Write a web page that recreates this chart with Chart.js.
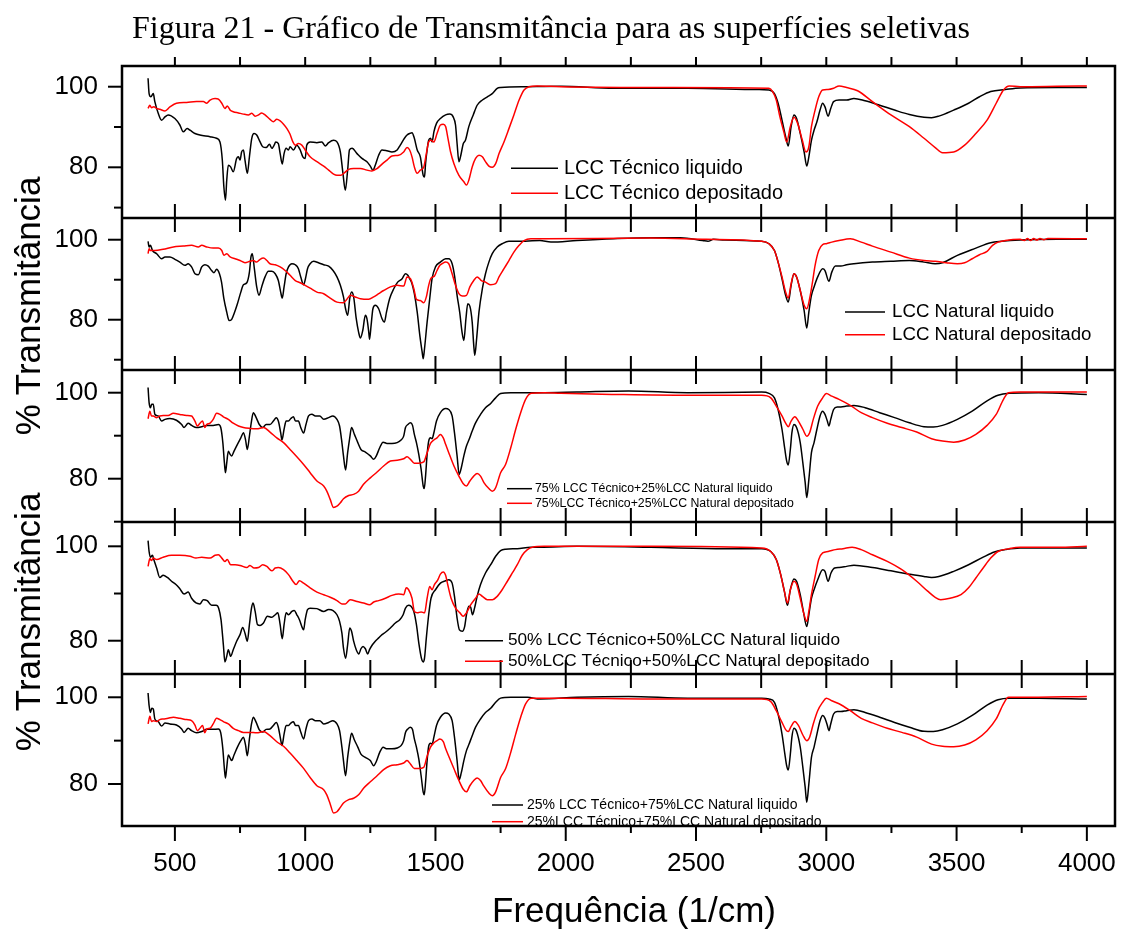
<!DOCTYPE html>
<html lang="pt-BR">
<head>
<meta charset="UTF-8">
<title>Figura 21 - Transmitância</title>
<script src="https://cdn.jsdelivr.net/npm/chart.js"></script>
<style>
  body, html { margin: 0; padding: 0; background: #fff; }
  .wrap { position: relative; width: 1126px; height: 931px; }
  canvas { position: absolute; left: 0; top: 0; }
  .titulo {
    position: absolute; left: 132px; top: 9px;
    font-family: 'Liberation Serif', 'Times New Roman', serif;
    font-size: 32px; color: #000; white-space: nowrap; line-height: 36px;
  }
  .ytitle {
    position: absolute;
    font-family: 'Liberation Sans', Arial, sans-serif;
    font-size: 35px; color: #000; white-space: nowrap; line-height: 40px;
    transform: translate(-50%, -50%) rotate(-90deg);
  }
  .xtitle {
    position: absolute;
    font-family: 'Liberation Sans', Arial, sans-serif;
    font-size: 35px; color: #000; white-space: nowrap; line-height: 40px;
    transform: translate(-50%, -50%);
  }
</style>
</head>
<body>
<div class="wrap">
  <canvas id="grafico" width="1126" height="931"></canvas>
  <div class="titulo">Figura 21 - Gráfico de Transmitância para as superfícies seletivas</div>
  <div class="ytitle" style="left:28px; top:306px;">% Transmitância</div>
  <div class="ytitle" style="left:28px; top:622px;">% Transmitância</div>
  <div class="xtitle" style="left:634px; top:910px;">Frequência (1/cm)</div>
</div>

<script>
// dados: [número de onda (1/cm), % transmitância]
const tecnicoLiquido = [[397,102.1],[401,98.3],[408,97.5],[417,98.3],[423,96.3],[436,93.4],[449,91.7],[462,92.5],[474,93.0],[500,92.1],[519,90.5],[532,88.8],[547,89.6],[558,89.2],[577,88.4],[596,88.0],[635,87.6],[660,87.2],[673,86.3],[682,81.8],[688,75.1],[694,71.8],[699,76.8],[705,80.5],[714,80.1],[724,78.9],[737,82.2],[744,82.6],[750,81.8],[756,83.8],[763,84.3],[769,81.8],[778,78.5],[786,82.6],[795,87.2],[804,88.4],[814,88.0],[827,86.3],[837,85.1],[850,84.9],[863,85.7],[872,84.7],[881,85.5],[887,86.3],[897,85.9],[904,83.4],[912,80.8],[919,83.4],[927,84.7],[936,84.3],[942,85.1],[955,84.3],[968,85.5],[981,84.3],[991,82.6],[1000,82.2],[1006,85.5],[1019,86.3],[1045,86.1],[1064,86.3],[1077,85.3],[1090,86.1],[1109,86.7],[1122,86.3],[1135,83.8],[1145,78.5],[1154,74.3],[1163,79.3],[1170,84.3],[1180,84.7],[1199,83.4],[1218,82.2],[1237,81.4],[1250,80.3],[1260,79.3],[1269,80.5],[1282,83.0],[1295,84.3],[1314,84.1],[1333,83.8],[1353,84.3],[1365,85.5],[1381,87.2],[1391,88.0],[1401,88.4],[1410,88.6],[1419,87.2],[1430,84.3],[1442,82.6],[1453,78.0],[1458,77.6],[1462,80.9],[1468,84.3],[1474,86.7],[1481,87.2],[1487,86.3],[1494,88.8],[1504,90.9],[1519,92.1],[1539,93.0],[1555,93.2],[1568,92.5],[1577,90.5],[1583,85.9],[1590,81.4],[1596,82.6],[1607,85.9],[1615,86.7],[1628,90.1],[1645,93.0],[1660,95.4],[1680,96.7],[1699,97.5],[1718,98.3],[1737,99.6],[1750,99.8],[1853,100],[1981,100.1],[2184,99.6],[2468,99.6],[2737,99.3],[2780,99.2],[2801,98.3],[2815,95.9],[2830,91.7],[2844,87.6],[2854,85.3],[2865,90.1],[2876,93.0],[2886,92.1],[2900,88.4],[2915,83.8],[2925,80.3],[2933,82.6],[2943,86.7],[2953,89.2],[2964,91.3],[2976,94.2],[2986,95.9],[2995,95.0],[3007,92.7],[3017,94.6],[3028,96.3],[3049,96.7],[3078,96.7],[3106,97.1],[3149,96.5],[3205,95.4],[3262,94.2],[3319,93.1],[3375,92.4],[3404,92.3],[3432,92.7],[3489,94.2],[3546,95.9],[3588,97.5],[3631,98.8],[3687,99.3],[3744,99.7],[3886,99.8],[4000,99.8]];

const tecnicoDepositado = [[397,94.6],[404,95.4],[410,94.8],[419,95.0],[430,94.6],[442,94.4],[462,94.0],[481,95.0],[506,95.9],[545,96.1],[583,96.3],[609,96.3],[622,95.9],[635,96.7],[654,97.1],[667,96.9],[680,95.9],[692,94.6],[701,95.2],[712,94.2],[724,93.8],[744,93.5],[763,93.2],[782,93.0],[795,93.4],[808,92.7],[821,93.0],[833,93.5],[846,93.0],[865,91.9],[878,91.3],[891,91.9],[904,91.5],[917,90.7],[930,89.6],[942,88.2],[953,86.3],[962,85.5],[974,85.9],[987,85.5],[1000,84.3],[1019,82.6],[1045,81.4],[1071,80.3],[1090,79.3],[1109,78.3],[1122,78.0],[1135,78.0],[1148,78.5],[1167,79.5],[1186,79.7],[1212,79.7],[1237,79.3],[1256,79.1],[1276,79.7],[1295,80.8],[1314,81.8],[1333,82.8],[1359,83.0],[1378,83.8],[1391,84.9],[1401,84.3],[1410,82.6],[1419,80.1],[1430,78.5],[1442,79.3],[1455,80.0],[1465,83.4],[1474,86.3],[1483,86.7],[1494,86.3],[1506,88.4],[1519,90.5],[1530,90.7],[1539,90.1],[1548,87.2],[1558,83.8],[1571,80.9],[1590,78.0],[1609,76.4],[1619,75.6],[1628,76.8],[1641,80.1],[1654,82.2],[1667,83.0],[1680,82.6],[1692,81.4],[1705,80.3],[1718,80.0],[1731,80.9],[1744,83.4],[1763,86.3],[1782,89.6],[1801,93.0],[1821,96.7],[1840,99.2],[1859,100],[1891,100.2],[1981,100],[2400,99.8],[2780,99.6],[2794,98.8],[2808,96.7],[2822,92.5],[2837,88.8],[2848,86.3],[2862,90.1],[2876,92.4],[2890,90.9],[2908,86.7],[2922,83.8],[2933,85.1],[2943,90.1],[2957,94.2],[2971,97.5],[2986,99.2],[3007,99.3],[3028,99.6],[3049,100.2],[3078,99.8],[3120,99.0],[3177,96.3],[3248,93.0],[3319,90.1],[3375,87.2],[3418,84.9],[3446,83.6],[3489,83.8],[3531,85.5],[3574,88.4],[3617,91.7],[3652,95.9],[3680,99.2],[3702,100.2],[3744,100],[3886,100.1],[4000,100.2]];

const naturalLiquido = [[397,99.6],[401,98.2],[406,98.6],[414,97.3],[430,96.5],[449,95.25],[462,95.7],[481,95.7],[500,95.1],[519,94.4],[538,93.6],[551,94.0],[564,93.2],[577,91.5],[590,91.25],[603,93.2],[615,93.75],[628,93.4],[641,92.3],[650,91.75],[660,92.6],[671,91.5],[679,89.4],[688,85.25],[699,81.9],[708,79.8],[718,80.1],[727,81.5],[740,84.0],[753,86.9],[763,88.75],[776,89.25],[786,91.9],[792,95.7],[797,96.5],[805,92.75],[814,88.2],[823,86.1],[833,88.2],[846,90.7],[859,92.1],[872,92.1],[885,91.5],[897,89.8],[906,86.9],[912,85.4],[919,88.2],[927,91.5],[936,93.2],[949,94.0],[962,93.75],[974,92.75],[983,90.7],[994,88.75],[1001,90.25],[1009,92.75],[1019,94.0],[1032,94.6],[1051,94.25],[1071,93.75],[1090,93.4],[1107,92.3],[1122,90.7],[1135,88.6],[1147,85.7],[1155,82.75],[1163,81.1],[1171,85.25],[1178,86.9],[1186,85.7],[1196,80.25],[1205,76.9],[1212,75.4],[1221,77.3],[1231,81.1],[1237,80.25],[1244,76.9],[1247,75.1],[1253,78.6],[1260,82.75],[1269,83.6],[1282,82.75],[1295,80.25],[1304,79.4],[1312,81.9],[1324,85.25],[1340,87.75],[1355,89.4],[1372,90.25],[1385,91.5],[1394,91.1],[1401,90.25],[1410,89.0],[1419,86.5],[1430,81.9],[1440,76.1],[1449,71.9],[1453,70.25],[1458,72.75],[1468,79.4],[1478,85.25],[1487,90.25],[1500,93.2],[1519,94.4],[1539,95.25],[1551,95.25],[1564,94.0],[1573,91.1],[1583,86.1],[1593,81.9],[1602,76.9],[1609,74.8],[1617,80.25],[1624,84.0],[1632,83.4],[1641,79.4],[1647,73.6],[1651,71.1],[1658,75.25],[1667,81.9],[1680,87.75],[1692,91.5],[1705,94.4],[1718,96.5],[1737,98.2],[1756,99.0],[1782,99.6],[1814,99.6],[1901,99.8],[1943,99.4],[2043,99.8],[2184,100.25],[2326,100.5],[2440,100.5],[2525,99.8],[2546,99.6],[2567,100.1],[2610,99.9],[2752,99.6],[2780,99.0],[2801,97.3],[2815,94.4],[2830,90.25],[2844,86.1],[2854,84.4],[2865,88.6],[2876,91.5],[2886,90.7],[2900,87.3],[2915,82.3],[2925,77.9],[2933,81.9],[2943,86.1],[2953,88.2],[2967,90.7],[2986,92.75],[2995,92.3],[3010,89.6],[3021,91.9],[3035,93.4],[3056,93.4],[3078,93.75],[3106,94.0],[3177,94.4],[3248,94.6],[3319,94.8],[3375,94.4],[3418,94.0],[3446,94.25],[3503,96.1],[3574,97.9],[3631,99.25],[3673,99.6],[3744,99.9],[3886,100.1],[4000,100.1]];

const naturalDepositado = [[397,96.5],[401,97.75],[406,97.3],[423,97.3],[455,97.6],[494,98.2],[532,98.4],[564,98.6],[590,98.2],[603,98.6],[622,98.2],[647,97.9],[667,97.9],[680,97.3],[688,96.1],[699,96.5],[712,95.7],[731,95.25],[750,94.8],[769,94.25],[788,94.6],[801,94.8],[814,94.4],[827,95.1],[840,95.4],[853,94.8],[865,94.0],[885,93.75],[904,93.2],[923,92.3],[942,91.1],[962,89.8],[981,89.25],[1000,88.6],[1019,87.9],[1045,86.9],[1071,86.5],[1096,85.4],[1122,84.4],[1147,84.25],[1160,85.1],[1173,86.1],[1192,85.7],[1212,85.25],[1244,85.1],[1263,85.7],[1282,86.5],[1301,87.3],[1327,88.2],[1353,88.6],[1378,88.4],[1391,90.7],[1404,90.25],[1417,87.75],[1427,85.1],[1442,84.8],[1455,84.25],[1465,85.7],[1474,88.6],[1483,90.4],[1496,90.9],[1506,92.3],[1517,93.6],[1526,94.0],[1539,94.4],[1551,94.0],[1564,91.5],[1577,88.6],[1590,86.5],[1603,85.9],[1619,86.1],[1632,88.2],[1647,89.8],[1660,90.7],[1676,89.8],[1692,89.4],[1712,88.75],[1731,89.0],[1744,90.7],[1763,92.75],[1782,94.8],[1801,96.9],[1821,98.6],[1840,99.8],[1866,100.25],[1917,100.25],[2326,100.4],[2539,100.1],[2752,99.6],[2780,99.0],[2801,97.3],[2815,94.4],[2830,90.7],[2844,86.9],[2854,85.4],[2865,89.0],[2876,91.5],[2886,90.7],[2900,87.3],[2915,83.6],[2925,82.75],[2936,85.25],[2947,89.4],[2957,93.6],[2971,97.3],[2986,98.8],[3000,99.0],[3021,99.4],[3049,99.8],[3092,100.25],[3134,99.4],[3177,98.4],[3248,96.9],[3319,95.4],[3375,94.8],[3418,94.6],[3460,94.25],[3503,94.0],[3531,94.25],[3560,95.25],[3588,96.25],[3617,97.1],[3638,98.6],[3659,99.4],[3687,99.8],[3744,100.1],[3760,99.8],[3772,100.3],[3784,99.8],[3796,100.3],[3808,99.9],[3820,100.3],[3835,100.0],[3850,100.3],[4000,100.25]];

const mix75Liquido = [[397,101.2],[401,97.7],[406,96.5],[411,97.3],[417,97.3],[423,95.0],[436,94.6],[449,93.4],[462,93.8],[481,94.0],[506,93.6],[526,92.6],[535,91.9],[551,92.9],[564,92.4],[583,91.9],[603,92.1],[622,92.4],[647,92.4],[667,92.6],[676,91.9],[684,88.4],[690,83.7],[694,81.4],[699,83.7],[705,86.4],[712,85.65],[718,85.3],[727,86.4],[740,88.0],[753,89.5],[763,90.7],[771,89.1],[778,86.8],[786,89.9],[794,93.4],[801,95.35],[812,94.2],[824,92.6],[837,91.9],[850,92.6],[865,92.6],[878,93.4],[889,94.2],[897,93.4],[906,90.7],[911,89.0],[919,91.5],[927,93.4],[936,93.4],[945,94.0],[955,94.4],[963,93.4],[974,93.4],[983,91.9],[994,90.6],[1003,92.6],[1013,94.6],[1026,95.0],[1039,94.6],[1056,94.6],[1071,93.8],[1090,94.2],[1106,94.6],[1122,93.8],[1132,92.25],[1141,88.4],[1147,85.3],[1155,82.0],[1163,86.05],[1171,89.5],[1178,91.9],[1189,90.3],[1202,88.4],[1214,86.8],[1231,86.2],[1250,85.3],[1263,84.5],[1273,85.3],[1286,87.2],[1299,88.5],[1314,88.2],[1333,88.2],[1353,88.4],[1368,89.0],[1378,89.9],[1385,91.9],[1394,92.6],[1404,93.0],[1412,92.4],[1419,90.3],[1427,88.4],[1436,85.65],[1445,82.2],[1453,78.3],[1457,77.7],[1462,80.6],[1468,85.65],[1474,88.75],[1481,89.5],[1487,89.3],[1494,90.7],[1504,93.4],[1519,95.35],[1539,96.3],[1551,96.1],[1564,94.6],[1573,90.7],[1583,85.3],[1591,81.0],[1599,82.5],[1609,85.3],[1619,87.6],[1629,89.1],[1641,91.1],[1654,93.0],[1673,94.95],[1692,96.5],[1712,97.5],[1731,98.8],[1750,99.8],[1789,100],[1853,100],[1901,100],[2043,100.15],[2241,100.4],[2468,100],[2752,100.15],[2780,99.85],[2801,98.8],[2815,96.1],[2830,91.5],[2841,86.8],[2848,84.1],[2854,83.2],[2862,86.8],[2868,90.7],[2876,92.6],[2886,91.9],[2900,88.4],[2910,83.7],[2919,79.1],[2925,75.6],[2933,79.8],[2943,86.05],[2953,88.4],[2964,91.5],[2976,94.6],[2986,95.7],[2995,94.95],[3004,93.4],[3010,92.25],[3017,93.8],[3028,96.1],[3042,96.7],[3056,96.7],[3078,96.9],[3106,97.05],[3149,96.5],[3205,95.35],[3262,94.2],[3319,93.0],[3375,92.1],[3411,92.0],[3446,92.4],[3503,93.8],[3560,95.7],[3617,98.1],[3659,99.4],[3702,99.85],[3815,100],[4000,99.6]];

const mix75Depositado = [[397,93.95],[404,95.7],[410,94.6],[417,94.6],[430,94.2],[442,94.6],[455,94.7],[474,94.7],[494,95.2],[519,94.95],[545,94.7],[564,94.6],[577,93.4],[586,92.25],[596,92.9],[606,93.4],[615,91.9],[622,92.6],[635,92.9],[647,93.8],[660,95.2],[673,94.95],[686,94.4],[705,93.8],[724,92.9],[744,92.25],[763,91.9],[788,91.7],[814,91.6],[840,91.9],[865,90.85],[891,89.5],[917,88.4],[942,86.8],[968,85.1],[994,83.3],[1019,81.4],[1045,79.45],[1071,78.3],[1083,77.1],[1096,75.2],[1109,73.3],[1122,73.6],[1135,74.4],[1147,75.35],[1167,76.1],[1186,76.35],[1205,77.1],[1224,78.7],[1250,80.2],[1276,81.55],[1301,82.95],[1327,84.1],[1353,84.3],[1378,84.65],[1391,85.1],[1404,84.5],[1419,83.6],[1436,83.6],[1455,83.9],[1468,86.05],[1481,88.2],[1494,89.0],[1506,89.5],[1519,90.3],[1530,89.5],[1539,88.0],[1551,86.05],[1571,82.95],[1590,80.6],[1606,78.9],[1619,78.3],[1632,79.45],[1647,80.6],[1660,81.2],[1673,80.6],[1686,79.1],[1705,77.7],[1718,77.1],[1731,77.9],[1750,81.4],[1769,83.3],[1789,87.2],[1808,91.5],[1827,95.35],[1846,98.45],[1868,99.85],[1917,100],[1981,99.85],[2184,99.6],[2468,99.4],[2752,99.4],[2787,98.8],[2808,96.9],[2830,94.6],[2844,92.9],[2854,92.1],[2865,93.4],[2879,94.4],[2893,93.4],[2910,91.5],[2925,89.9],[2936,90.7],[2950,93.8],[2967,96.9],[2986,98.8],[3000,99.8],[3021,99.2],[3049,98.45],[3092,97.05],[3134,95.35],[3177,94.2],[3234,92.9],[3290,91.9],[3347,90.85],[3404,89.3],[3446,88.75],[3489,88.5],[3531,89.0],[3574,90.3],[3617,92.4],[3652,94.95],[3680,98.45],[3699,100],[3744,100.15],[4000,100.15]];

const mix50Liquido = [[397,101.2],[401,98.9],[406,97.7],[414,98.1],[419,97.2],[430,95.4],[442,93.4],[455,93.85],[471,93.4],[487,92.6],[504,91.9],[519,91.0],[535,89.9],[551,90.3],[564,89.0],[581,88.0],[596,87.8],[609,88.7],[624,88.5],[641,87.5],[658,87.5],[668,86.9],[677,84.45],[686,79.15],[692,75.5],[699,76.7],[705,78.1],[714,76.7],[724,78.1],[737,79.9],[750,81.3],[760,82.8],[769,81.6],[778,79.9],[786,83.4],[794,86.9],[800,88.0],[808,86.2],[817,83.4],[827,83.25],[840,83.75],[855,85.2],[872,84.95],[885,85.5],[895,85.9],[904,83.4],[912,80.4],[919,83.4],[927,85.9],[936,85.5],[949,86.2],[958,86.4],[968,85.5],[978,84.45],[987,83.0],[994,82.3],[1000,84.45],[1009,86.6],[1019,86.9],[1045,86.8],[1071,86.2],[1090,86.6],[1107,86.4],[1122,85.5],[1132,84.1],[1141,81.6],[1147,78.45],[1155,76.3],[1163,79.15],[1171,82.7],[1178,82.0],[1186,79.9],[1196,78.1],[1206,77.2],[1214,78.3],[1222,78.8],[1231,78.3],[1240,77.2],[1247,78.1],[1258,79.15],[1269,79.9],[1282,80.6],[1295,81.3],[1308,81.8],[1327,82.7],[1346,83.75],[1363,84.45],[1376,85.5],[1385,86.9],[1397,87.5],[1406,87.3],[1417,86.2],[1427,83.4],[1437,79.15],[1446,76.3],[1453,75.5],[1458,76.3],[1465,80.6],[1474,85.5],[1483,89.0],[1500,90.8],[1519,92.2],[1539,92.7],[1551,92.9],[1564,92.2],[1573,89.4],[1583,84.8],[1592,82.3],[1603,82.0],[1612,83.0],[1619,85.5],[1628,87.3],[1635,87.1],[1642,85.5],[1650,86.9],[1660,89.4],[1673,91.9],[1692,94.35],[1712,96.1],[1731,97.9],[1750,99.1],[1769,99.4],[1814,99.5],[1866,99.8],[1901,99.8],[2043,100],[2326,99.8],[2610,99.5],[2752,99.5],[2787,98.9],[2808,97.2],[2825,94.0],[2839,90.5],[2851,87.5],[2862,90.8],[2876,93.1],[2886,92.6],[2900,89.75],[2913,85.9],[2925,83.0],[2933,85.5],[2943,89.0],[2953,90.8],[2967,92.9],[2986,95.05],[2995,94.7],[3007,92.6],[3018,94.35],[3032,95.4],[3049,95.5],[3078,95.75],[3106,96.0],[3177,95.5],[3248,94.8],[3319,94.1],[3375,93.6],[3404,93.4],[3432,93.6],[3489,94.7],[3546,96.1],[3602,97.7],[3645,98.8],[3687,99.3],[3744,99.65],[3886,99.65],[4000,99.65]];

const mix50Depositado = [[397,95.75],[404,97.4],[410,97.0],[417,97.5],[430,97.2],[455,97.7],[487,98.1],[519,98.1],[558,97.9],[581,97.5],[603,97.7],[635,97.5],[654,98.1],[667,98.2],[680,97.5],[692,96.8],[701,97.2],[714,96.1],[731,96.1],[750,95.95],[776,95.5],[788,95.95],[804,95.4],[821,95.5],[837,96.1],[853,95.75],[872,94.8],[885,95.4],[897,95.5],[917,95.05],[936,94.0],[953,92.6],[965,91.9],[978,92.7],[994,92.2],[1019,91.2],[1045,90.3],[1071,89.75],[1096,89.2],[1122,88.5],[1141,87.8],[1154,87.8],[1173,88.7],[1199,88.3],[1224,88.0],[1247,87.6],[1263,88.2],[1282,88.5],[1308,89.0],[1333,89.6],[1359,89.9],[1378,89.75],[1388,91.2],[1397,90.8],[1410,89.0],[1419,86.2],[1430,85.9],[1445,86.1],[1458,85.9],[1468,89.0],[1478,91.5],[1487,90.8],[1496,91.9],[1509,92.9],[1519,94.1],[1530,94.55],[1539,93.85],[1547,91.9],[1560,89.0],[1577,86.9],[1594,85.9],[1606,85.2],[1619,85.9],[1635,87.6],[1654,89.0],[1667,89.9],[1680,89.4],[1699,88.7],[1718,88.7],[1737,89.4],[1756,90.8],[1776,92.6],[1795,94.35],[1814,96.1],[1833,98.1],[1853,99.3],[1872,99.8],[1917,100],[1981,100],[2326,100],[2752,99.65],[2787,98.9],[2808,97.2],[2825,94.0],[2839,90.5],[2851,88.0],[2862,90.8],[2876,92.6],[2886,92.0],[2900,89.0],[2913,85.9],[2925,84.1],[2933,86.2],[2943,89.75],[2957,93.6],[2971,97.2],[2986,98.6],[3007,98.9],[3035,99.3],[3064,99.5],[3099,99.8],[3134,99.3],[3177,98.2],[3234,96.8],[3290,95.05],[3347,92.6],[3389,90.5],[3418,89.2],[3439,88.7],[3475,89.0],[3517,89.75],[3546,91.2],[3574,93.3],[3602,95.4],[3631,97.5],[3659,98.9],[3702,99.5],[3744,99.8],[3886,99.8],[4000,100]];

const mix25Liquido = [[397,101],[401,98.1],[406,96.5],[411,97.45],[417,97.3],[423,95.0],[436,94.4],[449,93.35],[462,94.05],[481,93.85],[506,93.6],[526,92.7],[535,91.9],[551,92.85],[564,92.3],[583,91.8],[603,92.1],[622,92.6],[647,92.6],[667,92.7],[676,91.8],[684,88.1],[690,83.5],[694,81.35],[699,83.85],[705,86.7],[712,85.95],[718,85.4],[727,86.7],[740,88.5],[753,90.0],[763,90.8],[771,89.0],[778,86.5],[786,90.4],[794,93.85],[801,95.4],[812,94.2],[824,92.5],[837,92.0],[850,92.6],[865,92.7],[878,93.5],[889,94.2],[897,93.1],[906,90.2],[911,88.85],[919,91.5],[927,93.5],[936,93.5],[945,94.05],[955,94.35],[963,93.5],[974,93.5],[983,92.0],[994,90.4],[1003,92.7],[1013,94.6],[1026,95.0],[1039,94.6],[1056,94.6],[1071,93.85],[1090,94.2],[1106,94.6],[1122,93.85],[1132,92.3],[1141,88.5],[1147,85.4],[1155,81.9],[1163,86.15],[1171,89.6],[1178,91.7],[1189,90.15],[1202,88.5],[1214,86.9],[1231,86.15],[1250,85.4],[1263,84.2],[1273,85.2],[1286,87.3],[1299,88.5],[1314,88.1],[1333,88.1],[1353,88.3],[1368,88.85],[1378,90.0],[1385,91.9],[1394,92.7],[1404,93.1],[1412,92.55],[1419,90.4],[1427,88.5],[1436,85.8],[1445,81.9],[1453,78.1],[1457,77.5],[1462,80.4],[1468,85.4],[1474,88.7],[1481,89.4],[1487,89.2],[1494,90.8],[1504,93.5],[1519,95.4],[1539,96.4],[1551,96.15],[1564,94.6],[1573,90.8],[1583,85.4],[1591,81.0],[1599,82.55],[1609,85.4],[1619,87.7],[1629,89.2],[1641,91.15],[1654,93.1],[1673,95.0],[1692,96.5],[1712,97.45],[1731,98.85],[1750,99.8],[1789,100],[1853,100],[1901,99.6],[2043,100],[2241,100.2],[2468,99.8],[2752,99.8],[2780,99.6],[2801,98.85],[2815,96.15],[2830,91.5],[2841,86.9],[2848,84.2],[2854,83.2],[2862,86.9],[2868,90.8],[2876,92.85],[2886,92.1],[2900,88.5],[2910,83.85],[2919,79.2],[2925,75.8],[2933,80.0],[2943,86.15],[2953,88.5],[2964,91.5],[2976,94.6],[2986,95.8],[2995,95.15],[3004,93.5],[3010,92.3],[3017,93.85],[3028,96.15],[3042,96.7],[3056,96.7],[3078,96.9],[3106,97.15],[3149,96.5],[3205,95.4],[3262,94.2],[3319,93.1],[3375,92.15],[3411,92.1],[3446,92.5],[3503,93.85],[3560,95.8],[3617,98.2],[3659,99.45],[3702,99.8],[3815,99.8],[4000,99.6]];

const mix25Depositado = [[397,93.85],[404,95.6],[410,94.4],[417,94.6],[430,94.4],[442,94.85],[455,95.0],[474,95.15],[494,95.4],[519,95.15],[545,94.85],[564,94.6],[577,93.6],[586,92.3],[596,92.85],[606,93.5],[615,91.8],[622,92.7],[635,92.85],[647,93.85],[660,95.15],[673,94.85],[686,94.4],[705,93.85],[724,92.85],[744,92.3],[763,91.9],[788,91.9],[814,91.8],[840,92.1],[865,91.15],[891,89.75],[917,88.7],[942,87.15],[968,85.4],[994,83.6],[1019,81.5],[1045,79.6],[1071,78.7],[1083,77.5],[1096,75.4],[1109,73.3],[1122,73.6],[1135,74.6],[1147,75.6],[1167,76.4],[1186,76.7],[1205,77.5],[1224,79.0],[1250,80.5],[1276,81.9],[1301,83.3],[1327,84.2],[1353,84.45],[1378,84.85],[1391,85.4],[1404,84.6],[1419,83.6],[1436,83.6],[1455,83.85],[1468,86.4],[1481,88.5],[1494,89.5],[1506,90.0],[1517,90.4],[1530,89.75],[1539,88.2],[1551,86.4],[1571,83.5],[1590,80.8],[1606,78.85],[1619,78.2],[1632,79.6],[1647,80.8],[1660,81.4],[1673,80.8],[1686,79.5],[1705,77.9],[1718,77.3],[1731,78.2],[1750,81.5],[1769,83.5],[1789,87.3],[1808,91.5],[1827,95.4],[1846,98.5],[1868,99.8],[1917,99.8],[1981,99.8],[2326,99.6],[2752,99.6],[2787,99.0],[2808,96.9],[2830,94.2],[2844,92.55],[2854,92.1],[2865,93.3],[2879,94.4],[2893,93.5],[2910,91.3],[2925,90.0],[2936,90.8],[2950,93.85],[2967,96.9],[2986,98.85],[3000,99.8],[3021,99.2],[3049,98.5],[3092,96.9],[3134,95.15],[3177,94.1],[3234,92.85],[3290,91.9],[3347,90.8],[3404,89.2],[3446,88.7],[3489,88.6],[3531,89.0],[3574,90.2],[3617,92.3],[3652,95.0],[3680,98.5],[3699,100],[3744,100],[4000,100.2]];

// marcas dos eixos
const xTicks = [500, 750, 1000, 1250, 1500, 1750, 2000, 2250, 2500, 2750, 3000, 3250, 3500, 3750, 4000];
const xTicksLabel = [500, 1000, 1500, 2000, 2500, 3000, 3500, 4000];
const yTicks = [70, 80, 90, 100];
const yTicksLabel = [80, 100];

const paineis = ['p1', 'p2', 'p3', 'p4', 'p5'];
const seriesPorPainel = [
  [tecnicoLiquido, tecnicoDepositado],
  [naturalLiquido, naturalDepositado],
  [mix75Liquido, mix75Depositado],
  [mix50Liquido, mix50Depositado],
  [mix25Liquido, mix25Depositado]
];
// limites de cada painel (eixo y)
const limitesY = [[67.42, 105.14], [67.43, 105.43], [69.93, 105.28], [72.95, 105.15], [70.31, 105.37]];

const legendas = [
  { x: 511, y: 168.3, len: 47, tx: 564, size: 20, dy: 25,
    textos: ['LCC Técnico liquido', 'LCC Técnico depositado'] },
  { x: 845, y: 312, len: 40, tx: 892, size: 18.7, dy: 22.7,
    textos: ['LCC Natural liquido', 'LCC Natural depositado'] },
  { x: 507, y: 488.7, len: 25, tx: 535, size: 12.3, dy: 14.6,
    textos: ['75% LCC Técnico+25%LCC Natural liquido', '75%LCC Técnico+25%LCC Natural depositado'] },
  { x: 465, y: 640.7, len: 38, tx: 508, size: 17.2, dy: 20.6,
    textos: ['50% LCC Técnico+50%LCC Natural liquido', '50%LCC Técnico+50%LCC Natural depositado'] },
  { x: 492, y: 805, len: 31, tx: 527, size: 14, dy: 16.7,
    textos: ['25% LCC Técnico+75%LCC Natural liquido', '25%LCC Técnico+75%LCC Natural depositado'] }
];

const cores = ['#000000', '#ff0000'];
const fonte = "'Liberation Sans', Arial, sans-serif";

const datasets = [];
seriesPorPainel.forEach((par, i) => {
  par.forEach((serie, j) => {
    datasets.push({
      data: serie.map(p => ({ x: p[0], y: p[1] })),
      yAxisID: paineis[i],
      borderColor: cores[j],
      borderWidth: 1.5,
      pointRadius: 0,
      fill: false,
      cubicInterpolationMode: 'monotone',
      order: j === 1 ? 0 : 1
    });
  });
});

// moldura, divisórias e marcas dos eixos
const molduraPlugin = {
  id: 'moldura',
  afterDatasetsDraw(chart) {
    const { ctx, chartArea: a, scales } = chart;
    const sx = scales.x;
    const seg = (x1, y1, x2, y2) => { ctx.beginPath(); ctx.moveTo(x1, y1); ctx.lineTo(x2, y2); ctx.stroke(); };
    ctx.save();
    ctx.strokeStyle = '#000';
    ctx.lineWidth = 2.5;
    ctx.strokeRect(a.left, a.top, a.right - a.left, a.bottom - a.top);
    paineis.slice(1).forEach(id => seg(a.left, scales[id].top, a.right, scales[id].top));

    ctx.lineWidth = 2;
    sx.ticks.forEach(t => {
      const px = sx.getPixelForValue(t.value);
      const maior = xTicksLabel.includes(t.value);
      seg(px, a.top, px, a.top - 9);
      seg(px, a.bottom, px, a.bottom + (maior ? 15 : 7));
      paineis.slice(1).forEach(id => {
        const yb = scales[id].top;
        seg(px, yb - 14, px, yb + 14);
      });
    });
    paineis.forEach(id => {
      const s = scales[id];
      s.ticks.forEach(t => {
        const py = s.getPixelForValue(t.value);
        const len = yTicksLabel.includes(t.value) ? 14 : 8;
        seg(a.left - len, py, a.left, py);
      });
    });
    ctx.restore();
  }
};

const legendaPlugin = {
  id: 'legendas',
  afterDraw(chart) {
    const ctx = chart.ctx;
    ctx.save();
    ctx.textBaseline = 'middle';
    ctx.textAlign = 'left';
    legendas.forEach(l => {
      ctx.font = l.size + 'px ' + fonte;
      l.textos.forEach((txt, k) => {
        const y = l.y + k * l.dy;
        ctx.strokeStyle = cores[k];
        ctx.lineWidth = 1.5;
        ctx.beginPath();
        ctx.moveTo(l.x, y);
        ctx.lineTo(l.x + l.len, y);
        ctx.stroke();
        ctx.fillStyle = '#000';
        ctx.fillText(txt, l.tx, y);
      });
    });
    ctx.restore();
  }
};

// marcas invisíveis só para afastar os rótulos do eixo
const gradeOculta = (len) => ({
  display: true, drawOnChartArea: false, drawTicks: true,
  tickLength: len, tickColor: 'rgba(0,0,0,0)', color: 'rgba(0,0,0,0)'
});

const escalas = {
  x: {
    type: 'linear',
    min: 297,
    max: 4108,
    afterBuildTicks: s => { s.ticks = xTicks.map(v => ({ value: v })); },
    ticks: {
      autoSkip: false,
      maxRotation: 0,
      padding: 0,
      color: '#000',
      font: { family: fonte, size: 26 },
      callback: v => xTicksLabel.includes(v) ? String(v) : ''
    },
    grid: gradeOculta(22),
    border: { display: false },
    title: { display: false },
    afterFit: s => { s.height = 105; }
  }
};
paineis.forEach((id, i) => {
  escalas[id] = {
    type: 'linear',
    position: 'left',
    stack: 'paineis',
    stackWeight: 1,
    weight: paineis.length - i,
    min: limitesY[i][0],
    max: limitesY[i][1],
    afterBuildTicks: s => {
      s.ticks = yTicks.filter(v => v >= s.min && v <= s.max).map(v => ({ value: v }));
    },
    ticks: {
      autoSkip: false,
      padding: 0,
      color: '#000',
      font: { family: fonte, size: 26 },
      callback: v => yTicksLabel.includes(v) ? String(v) : ''
    },
    grid: gradeOculta(24),
    border: { display: false },
    afterFit: s => { s.width = 122; }
  };
});

new Chart(document.getElementById('grafico').getContext('2d'), {
  type: 'line',
  data: { datasets },
  options: {
    responsive: false,
    animation: false,
    layout: { padding: { top: 66, right: 11, left: 0, bottom: 0 } },
    plugins: {
      legend: { display: false },
      tooltip: { enabled: false }
    },
    scales: escalas
  },
  plugins: [molduraPlugin, legendaPlugin]
});
</script>
</body>
</html>
